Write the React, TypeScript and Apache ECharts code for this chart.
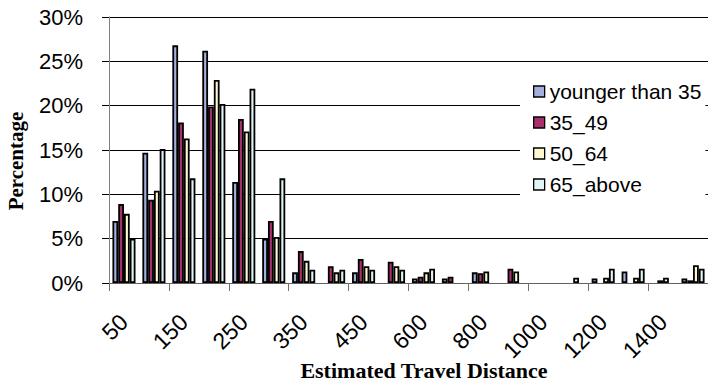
import React, { useEffect, useRef } from "react";
import * as echarts from "echarts";

const categories = ["50", "100", "150", "200", "250", "300", "350", "400", "450", "500", "600", "700", "800", "900", "1000", "1100", "1200", "1300", "1400", "1500"];
const seriesNames = ["younger than 35", "35_49", "50_64", "65_above"];
const younger35 = [7.0, 14.7, 26.8, 26.2, 11.4, 5.0, 1.2, 0, 1.2, 0, 0.5, 0.5, 1.2, 0, 0, 0, 0.5, 1.3, 0, 0.5];
const age35to49 = [8.9, 9.4, 18.1, 19.9, 18.5, 7.0, 3.6, 1.9, 2.7, 2.4, 0.7, 0.7, 1.1, 1.6, 0, 0, 0, 0, 0.3, 0.3];
const age50to64 = [7.8, 10.4, 16.3, 22.9, 17.1, 5.2, 2.5, 1.2, 1.9, 1.9, 1.2, 0, 1.3, 1.3, 0, 0.6, 0.6, 0.6, 0.6, 2.0];
const age65above = [5.0, 15.1, 11.8, 20.2, 21.9, 11.8, 1.5, 1.5, 1.5, 1.5, 1.6, 0, 0, 0, 0, 0, 1.6, 1.6, 0, 1.6];
const seriesColors = ["#a4b0dc", "#a8306c", "#fdf8d0", "#e2f5f5"];
const yTicks = [0, 5, 10, 15, 20, 25, 30];

export default function App() {
  const ref = useRef<HTMLDivElement>(null);
  useEffect(() => {
    if (!ref.current) return;
    const chart = echarts.init(ref.current, null, { renderer: "svg" });
    const allData = [younger35, age35to49, age50to64, age65above];
    chart.setOption({
      animation: false,
      backgroundColor: "#ffffff",
      grid: { left: 109, right: 0, top: 17, bottom: 99, containLabel: false },
      legend: {
        orient: "vertical",
        left: 520,
        top: 63,
        padding: [18, 4, 38, 13],
        backgroundColor: "#ffffff",
        itemWidth: 11,
        itemHeight: 11,
        itemGap: 10,
        icon: "rect",
        textStyle: { fontFamily: "Liberation Sans, Arial", fontSize: 21, color: "#000" },
        itemStyle: { borderColor: "#000", borderWidth: 1.3 },
        data: seriesNames,
      },
      xAxis: {
        type: "category",
        data: categories,
        axisLine: { lineStyle: { color: "#606060", width: 1 } },
        axisTick: { show: true, length: 8, lineStyle: { color: "#707070" } },
        axisLabel: {
          interval: 1,
          rotate: 45,
          margin: 35,
          fontFamily: "Liberation Sans, Arial",
          fontSize: 23,
          color: "#000",
        },
        splitLine: { show: false },
      },
      yAxis: {
        type: "value",
        min: yTicks[0],
        max: yTicks[yTicks.length - 1],
        interval: 5,
        axisLine: { show: true, lineStyle: { color: "#808080" } },
        axisTick: { show: true, length: 7, lineStyle: { color: "#000" } },
        axisLabel: {
          formatter: "{value}%",
          margin: 26,
          fontFamily: "Liberation Sans, Arial",
          fontSize: 22,
          color: "#000",
        },
        splitLine: { show: true, lineStyle: { color: "#000", width: 1 } },
      },
      graphic: [
        {
          type: "text",
          x: 16,
          y: 161,
          rotation: Math.PI / 2,
          style: {
            text: "Percentage",
            font: 'bold 21px "Liberation Serif", "Times New Roman", serif',
            fill: "#000",
            align: "center",
            verticalAlign: "middle",
          },
        },
        {
          type: "text",
          x: 424,
          y: 370,
          style: {
            text: "Estimated Travel Distance",
            font: 'bold 22px "Liberation Serif", "Times New Roman", serif',
            fill: "#000",
            align: "center",
            verticalAlign: "middle",
          },
        },
      ],
      series: seriesNames.map((name, i) => ({
        name,
        type: "bar",
        barGap: "0%",
        barCategoryGap: "23%",
        data: allData[i].map((v) => (v === 0 ? null : v)),
        itemStyle: { color: seriesColors[i], borderColor: "#000", borderWidth: 1.8 },
      })),
    });
    return () => chart.dispose();
  }, []);
  return <div ref={ref} style={{ position: "fixed", left: 0, top: 0, width: 708, height: 382 }} />;
}
